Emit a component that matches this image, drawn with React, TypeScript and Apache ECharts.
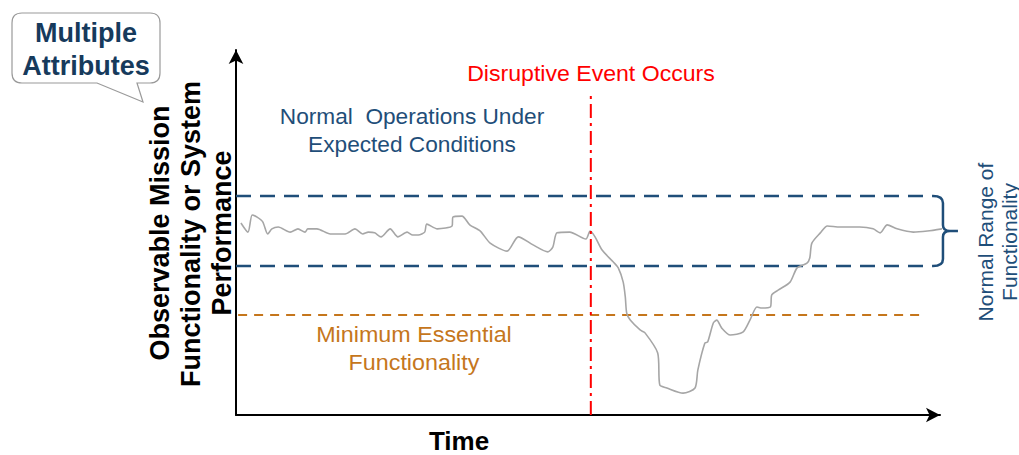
import React, { useEffect, useRef } from "react";
import * as echarts from "echarts";

// Observed performance over time (arbitrary units, 0–100)
const timeValues = [
  0.7, 1.7, 2.3, 3.0, 3.8, 4.5, 5.1, 6.0, 7.7, 8.8, 9.8, 10.2, 11.5, 13.4, 15.5, 16.9, 18.0, 18.8,
  19.7, 20.6, 21.9, 23.0, 24.3, 25.1, 25.9, 26.8, 27.1, 28.6, 30.7, 30.8, 32.1, 33.2, 34.7, 36.1,
  38.5, 40.1, 42.2, 44.3, 45.0, 45.6, 47.4, 49.7, 50.3, 51.0, 52.0, 53.6, 54.3, 55.0, 55.3, 55.5,
  56.0, 57.4, 58.1, 59.9, 60.2, 61.2, 63.5, 65.2, 65.6, 66.6, 67.0, 67.8, 68.3, 69.0, 70.2, 72.0,
  73.0, 74.0, 74.7, 75.9, 76.1, 77.0, 78.7, 79.7, 81.1, 81.5, 81.8, 83.0, 84.0, 85.8, 88.6, 90.5,
  91.5, 92.5, 93.9, 96.2, 98.2, 100.3,
];
const performanceValues = [
  52.6, 50.1, 54.8, 54.2, 52.9, 49.6, 51.0, 51.5, 50.1, 51.0, 50.1, 51.0, 51.0, 49.6, 49.6, 51.0, 49.6, 50.1,
  49.9, 48.8, 51.0, 48.8, 50.1, 49.3, 49.3, 50.1, 52.3, 51.0, 51.8, 54.2, 54.5, 52.1, 50.4, 47.1,
  44.9, 48.8, 46.6, 44.7, 46.0, 49.9, 50.1, 48.2, 50.4, 48.8, 45.2, 41.9, 40.3, 36.4, 32.3, 27.9,
  26.0, 23.3, 22.5, 17.0, 8.2, 7.4, 6.0, 7.4, 12.3, 19.7, 20.0, 25.2, 26.0, 23.8, 21.9, 22.7,
  26.0, 29.6, 29.3, 29.6, 32.9, 34.2, 36.4, 40.3, 41.6, 43.0, 47.1, 49.9, 51.8, 51.5, 51.5, 51.0,
  49.9, 52.1, 51.0, 50.1, 50.4, 51.0,
];

// Reference levels
const normalRangeUpper = 60.0;
const normalRangeLower = 40.8;
const minimumEssential = 27.4;
const normalRangeSpan = [0, 99];
const minimumSpan = [0.3, 97.6];
const disruptiveEventTime = 50.4;
const disruptiveEventTop = 87.7;

const yTitleLines = ["Observable Mission", "Functionality or System", "Performance"];
const xTitle = "Time";
const eventLabel = "Disruptive Event Occurs";
const normalOpsLines = ["Normal  Operations Under", "Expected Conditions"];
const minimumLines = ["Minimum Essential", "Functionality"];
const rangeLines = ["Normal Range of", "Functionality"];
const calloutLines = ["Multiple", "Attributes"];

const FONT = "'Liberation Sans', Arial, sans-serif";
const NAVY = "#1f4e79";
const ORANGE = "#c5761c";

export default function App() {
  const ref = useRef<HTMLDivElement>(null);

  useEffect(() => {
    if (!ref.current) return;
    const chart = echarts.init(ref.current, null, { renderer: "svg" });

    const perfData = timeValues.map((t, i) => [t, performanceValues[i]]);

    chart.setOption({
      animation: false,
      backgroundColor: "#ffffff",
      grid: { left: 236, right: 79, top: 50, bottom: 40 },
      xAxis: {
        type: "value",
        min: 0,
        max: 100,
        axisLine: {
          show: true,
          lineStyle: { color: "#000", width: 2 },
          symbol: ["none", "arrow"],
          symbolSize: [11, 14],
        },
        axisTick: { show: false },
        axisLabel: { show: false },
        splitLine: { show: false },
      },
      yAxis: {
        type: "value",
        min: 0,
        max: 100,
        axisLine: {
          show: true,
          lineStyle: { color: "#000", width: 2 },
          symbol: ["none", "arrow"],
          symbolSize: [11, 14],
        },
        axisTick: { show: false },
        axisLabel: { show: false },
        splitLine: { show: false },
      },
      series: [
        {
          type: "line",
          data: [
            [normalRangeSpan[0], normalRangeUpper],
            [normalRangeSpan[1], normalRangeUpper],
          ],
          symbol: "none",
          lineStyle: { color: NAVY, width: 2.5, type: [15, 9] },
          z: 2,
        },
        {
          type: "line",
          data: [
            [normalRangeSpan[0], normalRangeLower],
            [normalRangeSpan[1], normalRangeLower],
          ],
          symbol: "none",
          lineStyle: { color: NAVY, width: 2.5, type: [15, 9] },
          z: 2,
        },
        {
          type: "line",
          data: [
            [minimumSpan[0], minimumEssential],
            [minimumSpan[1], minimumEssential],
          ],
          symbol: "none",
          lineStyle: { color: ORANGE, width: 2, type: [9, 7] },
          z: 2,
        },
        {
          type: "line",
          data: perfData,
          symbol: "none",
          smooth: 0.25,
          clip: false,
          lineStyle: { color: "#a6a6a6", width: 1.6 },
          z: 3,
        },
        {
          type: "line",
          data: [
            [disruptiveEventTime, 0],
            [disruptiveEventTime, disruptiveEventTop],
          ],
          symbol: "none",
          lineStyle: { color: "#ff0000", width: 2, type: [14, 5, 3, 5] },
          z: 4,
        },
      ],
    });

    // Brace for normal range, anchored to the band levels
    const pTop = chart.convertToPixel({ gridIndex: 0 }, [normalRangeSpan[1], normalRangeUpper]) as number[];
    const pBot = chart.convertToPixel({ gridIndex: 0 }, [normalRangeSpan[1], normalRangeLower]) as number[];
    const xe = pTop[0];
    const xb = xe + 10;
    const yT = pTop[1];
    const yB = pBot[1];
    const yM = (yT + yB) / 2;
    const braceD =
      `M${xe},${yT} Q${xb},${yT} ${xb},${yT + 7} L${xb},${yM - 6} Q${xb},${yM} ${xb + 7},${yM} ` +
      `Q${xb},${yM} ${xb},${yM + 6} L${xb},${yB - 7} Q${xb},${yB} ${xe},${yB} ` +
      `M${xb + 4},${yM} L${xb + 15},${yM}`;
    echarts.graphic.registerShape("normalRangeBrace", echarts.graphic.extendPath(braceD, {}) as any);

    const calloutD =
      "M22,13 L150,13 Q160,13 160,23 L160,73 Q160,83 150,83 L137,83 L143,102 L97,83 L22,83 Q12,83 12,73 L12,23 Q12,13 22,13 Z";
    echarts.graphic.registerShape("calloutBubble", echarts.graphic.extendPath(calloutD, {}) as any);

    const centeredText = (
      text: string,
      x: number,
      y: number,
      size: number,
      color: string,
      weight = "normal",
      rotation = 0,
      scaleX = 1
    ) => ({
      type: "text",
      x,
      y,
      rotation,
      scaleX,
      z: 10,
      style: {
        text,
        fill: color,
        font: `${weight} ${size}px ${FONT}`,
        textAlign: "center",
        textVerticalAlign: "middle",
      },
    });

    chart.setOption({
      graphic: [
        {
          type: "normalRangeBrace",
          x: 0,
          y: 0,
          z: 5,
          style: { stroke: NAVY, lineWidth: 2.5, fill: "none" },
        },
        {
          type: "calloutBubble",
          x: 0,
          y: 0,
          z: 5,
          style: { stroke: "#9a9a9a", lineWidth: 1.2, fill: "#ffffff" },
        },
        centeredText(calloutLines[0], 86, 33, 27, "#163a5c", "bold"),
        centeredText(calloutLines[1], 86, 66, 27, "#163a5c", "bold"),
        centeredText(yTitleLines[0], 160, 233, 27, "#000", "bold", Math.PI / 2),
        centeredText(yTitleLines[1], 191, 234, 27, "#000", "bold", Math.PI / 2),
        centeredText(yTitleLines[2], 222, 233, 27, "#000", "bold", Math.PI / 2),
        centeredText(xTitle, 459, 441, 26, "#000", "bold"),
        centeredText(eventLabel, 591, 74, 22, "#ff0000", "normal", 0, 1.05),
        centeredText(normalOpsLines[0], 412, 117, 22, NAVY, "normal", 0, 1.03),
        centeredText(normalOpsLines[1], 412, 145, 22, NAVY, "normal", 0, 1.03),
        centeredText(minimumLines[0], 414, 334, 22, ORANGE, "normal", 0, 1.06),
        centeredText(minimumLines[1], 414, 362, 22, ORANGE, "normal", 0, 1.06),
        centeredText(rangeLines[0], 985, 242, 21, NAVY, "normal", Math.PI / 2),
        centeredText(rangeLines[1], 1009, 242, 21, NAVY, "normal", Math.PI / 2),
      ],
    });

    return () => chart.dispose();
  }, []);

  return (
    <div
      ref={ref}
      style={{ position: "absolute", left: 0, top: 0, width: 1019, height: 455, background: "#fff" }}
    />
  );
}
